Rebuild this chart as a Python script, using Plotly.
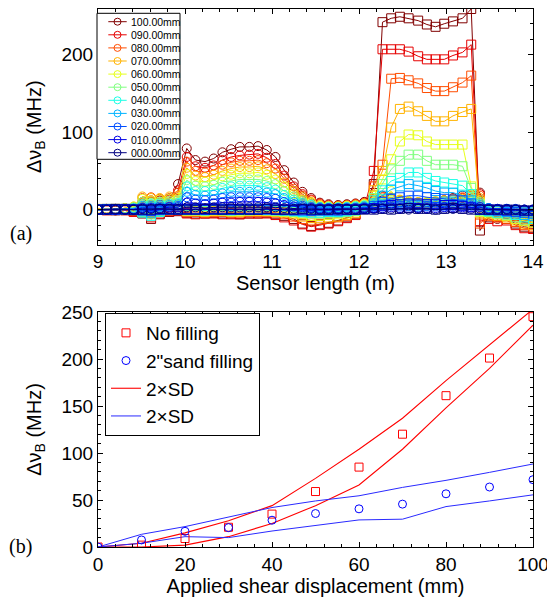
import plotly.graph_objects as go

# ---------------- data: panel (a) ----------------
sensor_pos = [9.00, 9.10, 9.20, 9.31, 9.41, 9.51, 9.61, 9.71, 9.82, 9.92,
              10.02, 10.12, 10.23, 10.33, 10.43, 10.53, 10.63, 10.74, 10.84, 10.94,
              11.04, 11.14, 11.25, 11.35, 11.45, 11.55, 11.65, 11.76, 11.86, 11.96,
              12.06, 12.17, 12.27, 12.37, 12.47, 12.57, 12.68, 12.78, 12.88, 12.98,
              13.08, 13.19, 13.29, 13.39, 13.49, 13.59, 13.70, 13.80, 13.90, 14.00]

labels = ["100.00mm", "090.00mm", "080.00mm", "070.00mm", "060.00mm", "050.00mm",
          "040.00mm", "030.00mm", "020.00mm", "010.00mm", "000.00mm"]

circ_100 = [0, 1, -1, 2, 3, 8, 10, 12, 14, 33, 79, 64, 62, 66, 74, 78, 81, 81, 82, 77,
            68, 51, 35, 23, 15, 9, 7, 6, 7, 8, 10, 14, 18, 15, 12, 10, 8, 8, 10, 12,
            15, 18, 20, 22, -5, -12, -6, -8, -10, -12]
circ_090 = [0, 0, 1, 1, 2, 10, 12, 12, 13, 25, 68, 56, 54, 57, 64, 68, 70, 71, 72, 67,
            59, 44, 30, 20, 13, 8, 6, 5, 6, 7, 9, 12, 16, 14, 11, 9, 7, 7, 9, 11,
            13, 15, 18, 20, -3, -10, -5, -7, -9, -11]
circ_080 = [0, 1, 0, 2, 3, 15, 16, 14, 15, 22, 62, 50, 48, 51, 58, 61, 63, 63, 64, 60,
            53, 40, 27, 18, 12, 7, 5, 5, 6, 7, 8, 11, 17, 15, 12, 10, 9, 9, 10, 12,
            14, 16, 17, 18, -2, -6, -4, -6, -8, -9]
circ_070 = [1, 0, 1, 1, 4, 17, 15, 15, 17, 18, 54, 44, 42, 45, 50, 53, 55, 55, 56, 52,
            46, 35, 24, 16, 10, 6, 5, 4, 5, 6, 8, 10, 14, 16, 13, 11, 10, 10, 11, 12,
            13, 14, 15, 15, 0, -4, -2, -4, -6, -7]
circ_060 = [0, 1, 0, 2, 4, 14, 12, 13, 14, 15, 46, 37, 36, 38, 43, 45, 47, 47, 48, 45,
            39, 30, 20, 13, 9, 5, 4, 4, 5, 5, 7, 9, 14, 24, 12, 10, 9, 9, 10, 11,
            12, 12, 13, 12, 1, -2, -1, -3, -4, -5]
circ_050 = [0, 0, 1, 1, 3, 10, 9, 10, 11, 12, 38, 31, 30, 32, 36, 37, 39, 39, 39, 37,
            33, 24, 17, 11, 7, 4, 4, 3, 4, 5, 6, 8, 10, 12, 10, 9, 8, 8, 9, 9,
            10, 10, 11, 10, 2, -1, 0, -2, -3, -3]
circ_040 = [0, 0, 0, 1, 2, 7, 7, 8, 8, 9, 30, 24, 24, 25, 28, 30, 31, 31, 31, 29,
            26, 19, 13, 9, 6, 3, 3, 3, 3, 4, 5, 6, 8, 9, 8, 7, 6, 7, 7, 8,
            8, 8, 9, 8, 2, 0, 1, -1, -2, -2]
circ_030 = [0, 0, 0, 0, 1, 5, 5, 6, 6, 7, 23, 19, 18, 19, 21, 23, 23, 23, 24, 22,
            20, 15, 10, 7, 4, 3, 2, 2, 3, 3, 4, 5, 6, 7, 6, 5, 5, 5, 6, 6,
            6, 7, 7, 6, 2, 1, 1, 0, -1, -1]
circ_020 = [0, 0, 1, 0, 1, 3, 3, 4, 4, 5, 16, 13, 12, 13, 15, 16, 16, 16, 16, 15,
            14, 10, 7, 5, 3, 2, 2, 2, 2, 2, 3, 3, 4, 5, 4, 4, 3, 4, 4, 4,
            5, 5, 5, 4, 2, 1, 1, 1, 0, 0]
circ_010 = [0, 0, 0, 0, 0, 2, 2, 2, 3, 3, 9, 8, 7, 8, 9, 9, 10, 10, 10, 9,
            8, 6, 4, 3, 2, 1, 1, 1, 1, 1, 2, 2, 2, 3, 2, 2, 2, 2, 2, 3,
            3, 3, 3, 3, 1, 1, 1, 0, 0, 0]
circ_000 = [0, 0, 0, 0, 0, 1, 1, 1, 1, 1, 3, 3, 2, 3, 3, 3, 3, 3, 3, 3,
            3, 2, 1, 1, 1, 0, 0, 0, 1, 0, 1, 1, 1, 1, 1, 0, 1, 1, 0, 1,
            1, 1, 1, 1, 0, 0, 0, 0, 0, 0]

sq_100 = [0, 0, -1, 0, -2, -5, -12, -6, -3, -2, -4, -5, -5, -4, -5, -5, -6, -5, -5, -4,
          -6, -8, -12, -18, -21, -19, -17, -14, -10, -6, 4, 33, 242, 247, 249, 247, 244, 239, 236, 240,
          243, 247, 259, -27, -10, -8, -12, -18, -22, -24]
sq_090 = [0, -1, 0, -1, -3, -4, -10, -5, -2, -1, -5, -6, -5, -5, -6, -6, -6, -5, -5, -5,
          -7, -10, -14, -19, -22, -20, -18, -15, -11, -7, 2, 50, 207, 207, 207, 204, 198, 194, 194, 194,
          199, 203, 213, -15, -12, -15, -14, -20, -24, -25]
sq_080 = [0, 0, 1, 0, -1, -2, -5, -3, -1, 0, -3, -3, -4, -3, -3, -4, -4, -3, -3, -3,
          -4, -6, -9, -12, -14, -13, -12, -10, -8, -5, 3, 30, 58, 169, 170, 167, 163, 157, 153, 153,
          158, 164, 173, -18, -8, -10, -12, -16, -20, -22]
sq_070 = [1, 0, 0, 1, 0, -1, -3, -2, 0, 0, -2, -2, -3, -2, -2, -3, -3, -2, -2, -2,
          -3, -4, -6, -9, -11, -11, -10, -9, -7, -4, 4, 25, 50, 106, 130, 133, 127, 121, 114, 114,
          121, 126, 130, -5, -6, -8, -10, -14, -18, -20]
sq_060 = [0, 1, 0, 0, 1, -2, -4, -1, 0, 1, -1, -1, -2, -1, -1, -2, -2, -1, -1, -1,
          -2, -3, -4, -6, -8, -8, -7, -6, -5, -2, 3, 18, 39, 65, 88, 97, 96, 88, 84, 84,
          84, 84, 30, -3, -4, -6, -8, -12, -15, -17]
sq_050 = [0, 0, 1, 0, 0, -3, -6, -2, 0, 0, -1, -1, -1, 0, -1, -1, -1, -1, 0, -1,
          -1, -2, -3, -4, -5, -5, -5, -4, -3, -1, 2, 15, 33, 52, 63, 71, 71, 63, 58, 58,
          58, 56, 28, -2, -3, -5, -7, -10, -13, -15]
sq_040 = [0, 0, 0, 1, 0, -4, -8, -3, 0, 0, 0, 0, -1, 0, 0, -1, 0, 0, 0, 0,
          -1, -1, -2, -3, -4, -4, -3, -3, -2, -1, 2, 12, 25, 37, 41, 48, 48, 41, 37, 35,
          33, 31, 20, 0, -2, -4, -5, -7, -10, -12]
sq_030 = [0, 0, 0, 0, 1, -2, -4, -1, 0, 0, 0, 0, 0, 1, 0, 0, 0, 0, 1, 0,
          0, -1, -1, -2, -2, -2, -2, -2, -1, 0, 1, 8, 18, 26, 30, 33, 31, 28, 24, 22,
          22, 18, 12, 0, -1, -2, -3, -5, -7, -8]
sq_020 = [0, 1, 0, 0, 0, -1, -2, 0, 0, 1, 0, 1, 0, 0, 1, 0, 0, 1, 0, 0,
          0, 0, -1, -1, -1, -1, -1, -1, 0, 0, 1, 5, 10, 14, 16, 18, 18, 16, 15, 14,
          13, 12, 8, 0, 0, -1, -2, -3, -4, -5]
sq_010 = [0, 0, 0, 1, 0, 0, -1, 0, 1, 0, 1, 0, 0, 1, 0, 0, 1, 0, 0, 1,
          0, 0, 0, 0, -1, 0, 0, 0, 0, 0, 1, 2, 5, 6, 7, 8, 8, 7, 7, 6,
          6, 5, 3, 0, 0, 0, -1, -1, -2, -2]
sq_000 = [0, 0, 1, 0, 0, 0, 0, 1, 0, 0, 0, 0, 1, 0, 0, 1, 0, 0, 0, 1,
          0, 0, 0, 1, 0, 0, 0, 1, 0, 0, 0, 0, 1, 0, 1, 2, 1, 1, 0, 1,
          2, 1, 0, 0, 0, 0, 0, 0, -1, -1]

# ---------------- data: panel (b) ----------------
disp_mm = [0, 10, 20, 30, 40, 50, 60, 70, 80, 90, 100]
no_fill = [0, 2, 9, 21, 35, 59, 85, 120, 161, 201, 245]
sand_fill = [0, 7.5, 16.7, 20.6, 28.5, 35.6, 40.6, 45.6, 56.6, 63.8, 71.6]
no_fill_sd_hi = [0, 4, 15, 28, 44, 73, 104, 137, 177, 215, 253]
no_fill_sd_lo = [0, 0, 2, 11, 25, 44, 66, 104, 148, 190, 236]
sand_sd_hi = [0, 13.5, 21.7, 31.7, 42, 49, 54.5, 63.4, 70.9, 79.4, 88.3]
sand_sd_lo = [0, 4, 11, 10, 17, 22.8, 28.8, 29.6, 43, 49, 55.5]

# ---------------- styling ----------------
jet_colors = ["#800000", "#e60000", "#ff4d00", "#ffb300", "#e6ff1a", "#80ff80",
              "#1affe6", "#00b3ff", "#004dff", "#0000e6", "#000080"]
circ_series = [circ_100, circ_090, circ_080, circ_070, circ_060, circ_050,
               circ_040, circ_030, circ_020, circ_010, circ_000]
sq_series = [sq_100, sq_090, sq_080, sq_070, sq_060, sq_050,
             sq_040, sq_030, sq_020, sq_010, sq_000]

FONT = "Liberation Sans, Arial, sans-serif"
SERIF = "Liberation Serif, Times New Roman, serif"
W, H = 547, 600
ML, MR, MT, MB = 98, 14, 9, 53
PW = W - ML - MR
PH = H - MT - MB


def pxx(px):
    return (px - ML) / PW


def pxy(py):
    return (H - MB - py) / PH


fig = go.Figure()

for lab, col, cy, sy in zip(labels, jet_colors, circ_series, sq_series):
    fig.add_trace(go.Scatter(
        x=sensor_pos, y=cy, mode="lines+markers", name=lab, showlegend=False,
        line=dict(color=col, width=1),
        marker=dict(symbol="circle-open", size=9, color=col, line=dict(width=1, color=col)),
        xaxis="x", yaxis="y"))
    fig.add_trace(go.Scatter(
        x=sensor_pos, y=sy, mode="lines+markers", name=lab, showlegend=False,
        line=dict(color=col, width=1),
        marker=dict(symbol="square-open", size=9, color=col, line=dict(width=1, color=col)),
        xaxis="x", yaxis="y"))

# panel (b): bands first, markers on top; legend order kept with legendrank
RED_SD = "#ff0000"
BLUE_SD = "#2a2aff"
fig.add_trace(go.Scatter(x=disp_mm, y=no_fill_sd_hi, mode="lines", name="2×SD", legendgroup="rsd",
                         legendrank=3, line=dict(color=RED_SD, width=1.1), xaxis="x2", yaxis="y2"))
fig.add_trace(go.Scatter(x=disp_mm, y=no_fill_sd_lo, mode="lines", name="2×SD", legendgroup="rsd",
                         showlegend=False, line=dict(color=RED_SD, width=1.1), xaxis="x2", yaxis="y2"))
fig.add_trace(go.Scatter(x=disp_mm, y=sand_sd_hi, mode="lines", name="2×SD", legendgroup="bsd",
                         legendrank=4, line=dict(color=BLUE_SD, width=1), xaxis="x2", yaxis="y2"))
fig.add_trace(go.Scatter(x=disp_mm, y=sand_sd_lo, mode="lines", name="2×SD", legendgroup="bsd",
                         showlegend=False, line=dict(color=BLUE_SD, width=1), xaxis="x2", yaxis="y2"))
fig.add_trace(go.Scatter(x=disp_mm, y=no_fill, mode="markers", name="No filling", legendrank=1,
                         marker=dict(symbol="square-open", size=8, color="red", line=dict(width=1, color="red")),
                         xaxis="x2", yaxis="y2"))
fig.add_trace(go.Scatter(x=disp_mm, y=sand_fill, mode="markers", name='2"sand filling', legendrank=2,
                         marker=dict(symbol="circle-open", size=8, color="blue", line=dict(width=1, color="blue")),
                         xaxis="x2", yaxis="y2"))

axis_common = dict(showline=True, linecolor="black", linewidth=1, mirror="ticks",
                   ticks="inside", ticklen=5, tickcolor="black", tickwidth=1,
                   showgrid=False, zeroline=False, automargin=False,
                   ticklabeloverflow="allow",
                   tickfont=dict(family=FONT, size=19, color="black"))

fig.update_layout(
    width=W, height=H,
    margin=dict(l=ML, r=MR, t=MT, b=MB),
    paper_bgcolor="white", plot_bgcolor="white",
    font=dict(family=FONT, color="black"),
    xaxis=dict(domain=[0, 1], anchor="y", range=[9, 14], tick0=9, dtick=1,
               minor=dict(ticks="inside", dtick=0.2, ticklen=3, tickcolor="black"),
               title=dict(text="Sensor length (m)", font=dict(family=FONT, size=20), standoff=2),
               **axis_common),
    yaxis=dict(domain=[pxy(244.5), 1.0], anchor="x", range=[-45, 259], tick0=0, dtick=100,
               minor=dict(ticks="inside", dtick=20, ticklen=3, tickcolor="black"),
               title=dict(text="Δν<sub>B</sub> (MHz)", font=dict(family=FONT, size=20), standoff=14),
               **axis_common),
    xaxis2=dict(domain=[0, 1], anchor="y2", range=[0, 100], tick0=0, dtick=20,
                minor=dict(ticks="inside", dtick=4, ticklen=3, tickcolor="black"),
                title=dict(text="Applied shear displacement (mm)", font=dict(family=FONT, size=20), standoff=4),
                **axis_common),
    yaxis2=dict(domain=[0, pxy(312)], anchor="x2", range=[0, 250], tick0=0, dtick=50,
                minor=dict(ticks="inside", dtick=10, ticklen=3, tickcolor="black"),
                title=dict(text="Δν<sub>B</sub> (MHz)", font=dict(family=FONT, size=20), standoff=14),
                **axis_common),
    legend=dict(x=pxx(105), y=pxy(313), xanchor="left", yanchor="top",
                bordercolor="black", borderwidth=1, bgcolor="white",
                font=dict(family=FONT, size=19, color="black"), tracegroupgap=0),
    showlegend=True,
)

# manual legend for panel (a)
shapes = [dict(type="rect", xref="paper", yref="paper", x0=pxx(97), x1=pxx(180),
               y0=pxy(159.3), y1=pxy(13.3), line=dict(color="black", width=1),
               fillcolor="white", layer="above")]
annotations = []
for i, (lab, col) in enumerate(zip(labels, jet_colors)):
    yrow = 21.7 + 13.1 * i
    shapes.append(dict(type="line", xref="paper", yref="paper", x0=pxx(108.3), x1=pxx(126.7),
                       y0=pxy(yrow), y1=pxy(yrow), line=dict(color=col, width=1), layer="above"))
    shapes.append(dict(type="circle", xref="paper", yref="paper", xsizemode="pixel", ysizemode="pixel",
                       xanchor=pxx(117.5), yanchor=pxy(yrow), x0=-3.5, x1=3.5, y0=-3.5, y1=3.5,
                       line=dict(color=col, width=1), fillcolor="rgba(0,0,0,0)", layer="above"))
    annotations.append(dict(xref="paper", yref="paper", x=pxx(128.5), y=pxy(yrow), xanchor="left",
                            yanchor="middle", text=lab, showarrow=False,
                            font=dict(family=FONT, size=10.5, color="black")))

annotations.append(dict(xref="paper", yref="paper", x=pxx(20.5), y=pxy(234), xanchor="center",
                        yanchor="middle", text="(a)", showarrow=False,
                        font=dict(family=SERIF, size=20, color="black")))
annotations.append(dict(xref="paper", yref="paper", x=pxx(20.5), y=pxy(546), xanchor="center",
                        yanchor="middle", text="(b)", showarrow=False,
                        font=dict(family=SERIF, size=20, color="black")))

fig.update_layout(shapes=shapes, annotations=annotations)

fig.write_html("out.html", config={"displayModeBar": False})
